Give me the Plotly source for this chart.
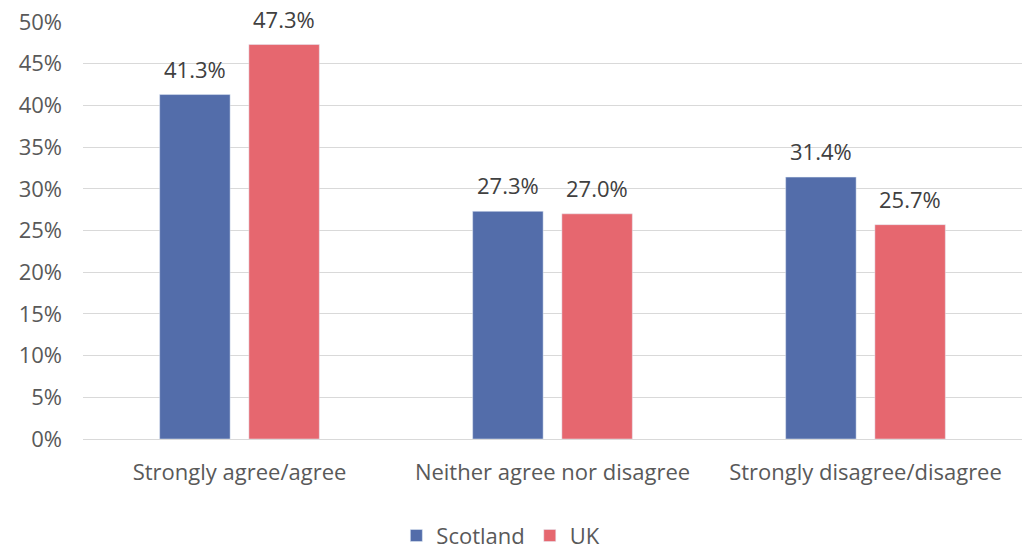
import plotly.graph_objects as go

categories = ["Strongly agree/agree", "Neither agree nor disagree", "Strongly disagree/disagree"]
scotland = [41.3, 27.3, 31.4]
uk = [47.3, 27.0, 25.7]
tick_vals = [0, 5, 10, 15, 20, 25, 30, 35, 40, 45, 50]
tick_text = [f"{v}%" for v in tick_vals]

font_family = "Open Sans, sans-serif"

fig = go.Figure()
fig.add_trace(go.Bar(name="Scotland", x=categories, y=scotland, marker_color="#536DAA"))
fig.add_trace(go.Bar(name="UK", x=categories, y=uk, marker_color="#E6676F"))

for series, shift in ((scotland, -44.5), (uk, 44.5)):
    for cat, v in zip(categories, series):
        fig.add_annotation(x=cat, y=v, text=f"{v:.1f}%", showarrow=False,
                           xshift=shift, yshift=9, yanchor="bottom",
                           font=dict(size=22, color="#404040", family=font_family))

fig.update_layout(
    width=1024, height=550,
    margin=dict(l=83, r=2, t=22, b=111, autoexpand=False),
    plot_bgcolor="white", paper_bgcolor="white",
    barmode="group", bargap=0.43, bargroupgap=0.21,
    font=dict(family=font_family, size=22, color="#595959"),
    legend=dict(orientation="h", x=0.445, xanchor="center", yref="container", y=0.026, yanchor="middle",
                font=dict(size=22, color="#595959"), itemwidth=30, tracegroupgap=0),
    showlegend=True,
)
fig.update_yaxes(range=[0, 50], tickvals=tick_vals, ticktext=tick_text,
                 gridcolor="#D9D9D9", gridwidth=1, zeroline=False, showline=False,
                 ticks="", tickfont=dict(size=22, color="#595959"), ticklabelstandoff=20)
fig.update_xaxes(showline=True, linecolor="#D9D9D9", linewidth=1, ticks="",
                 tickfont=dict(size=22, color="#595959"), ticklabelstandoff=14)

fig.write_html("out.html")
